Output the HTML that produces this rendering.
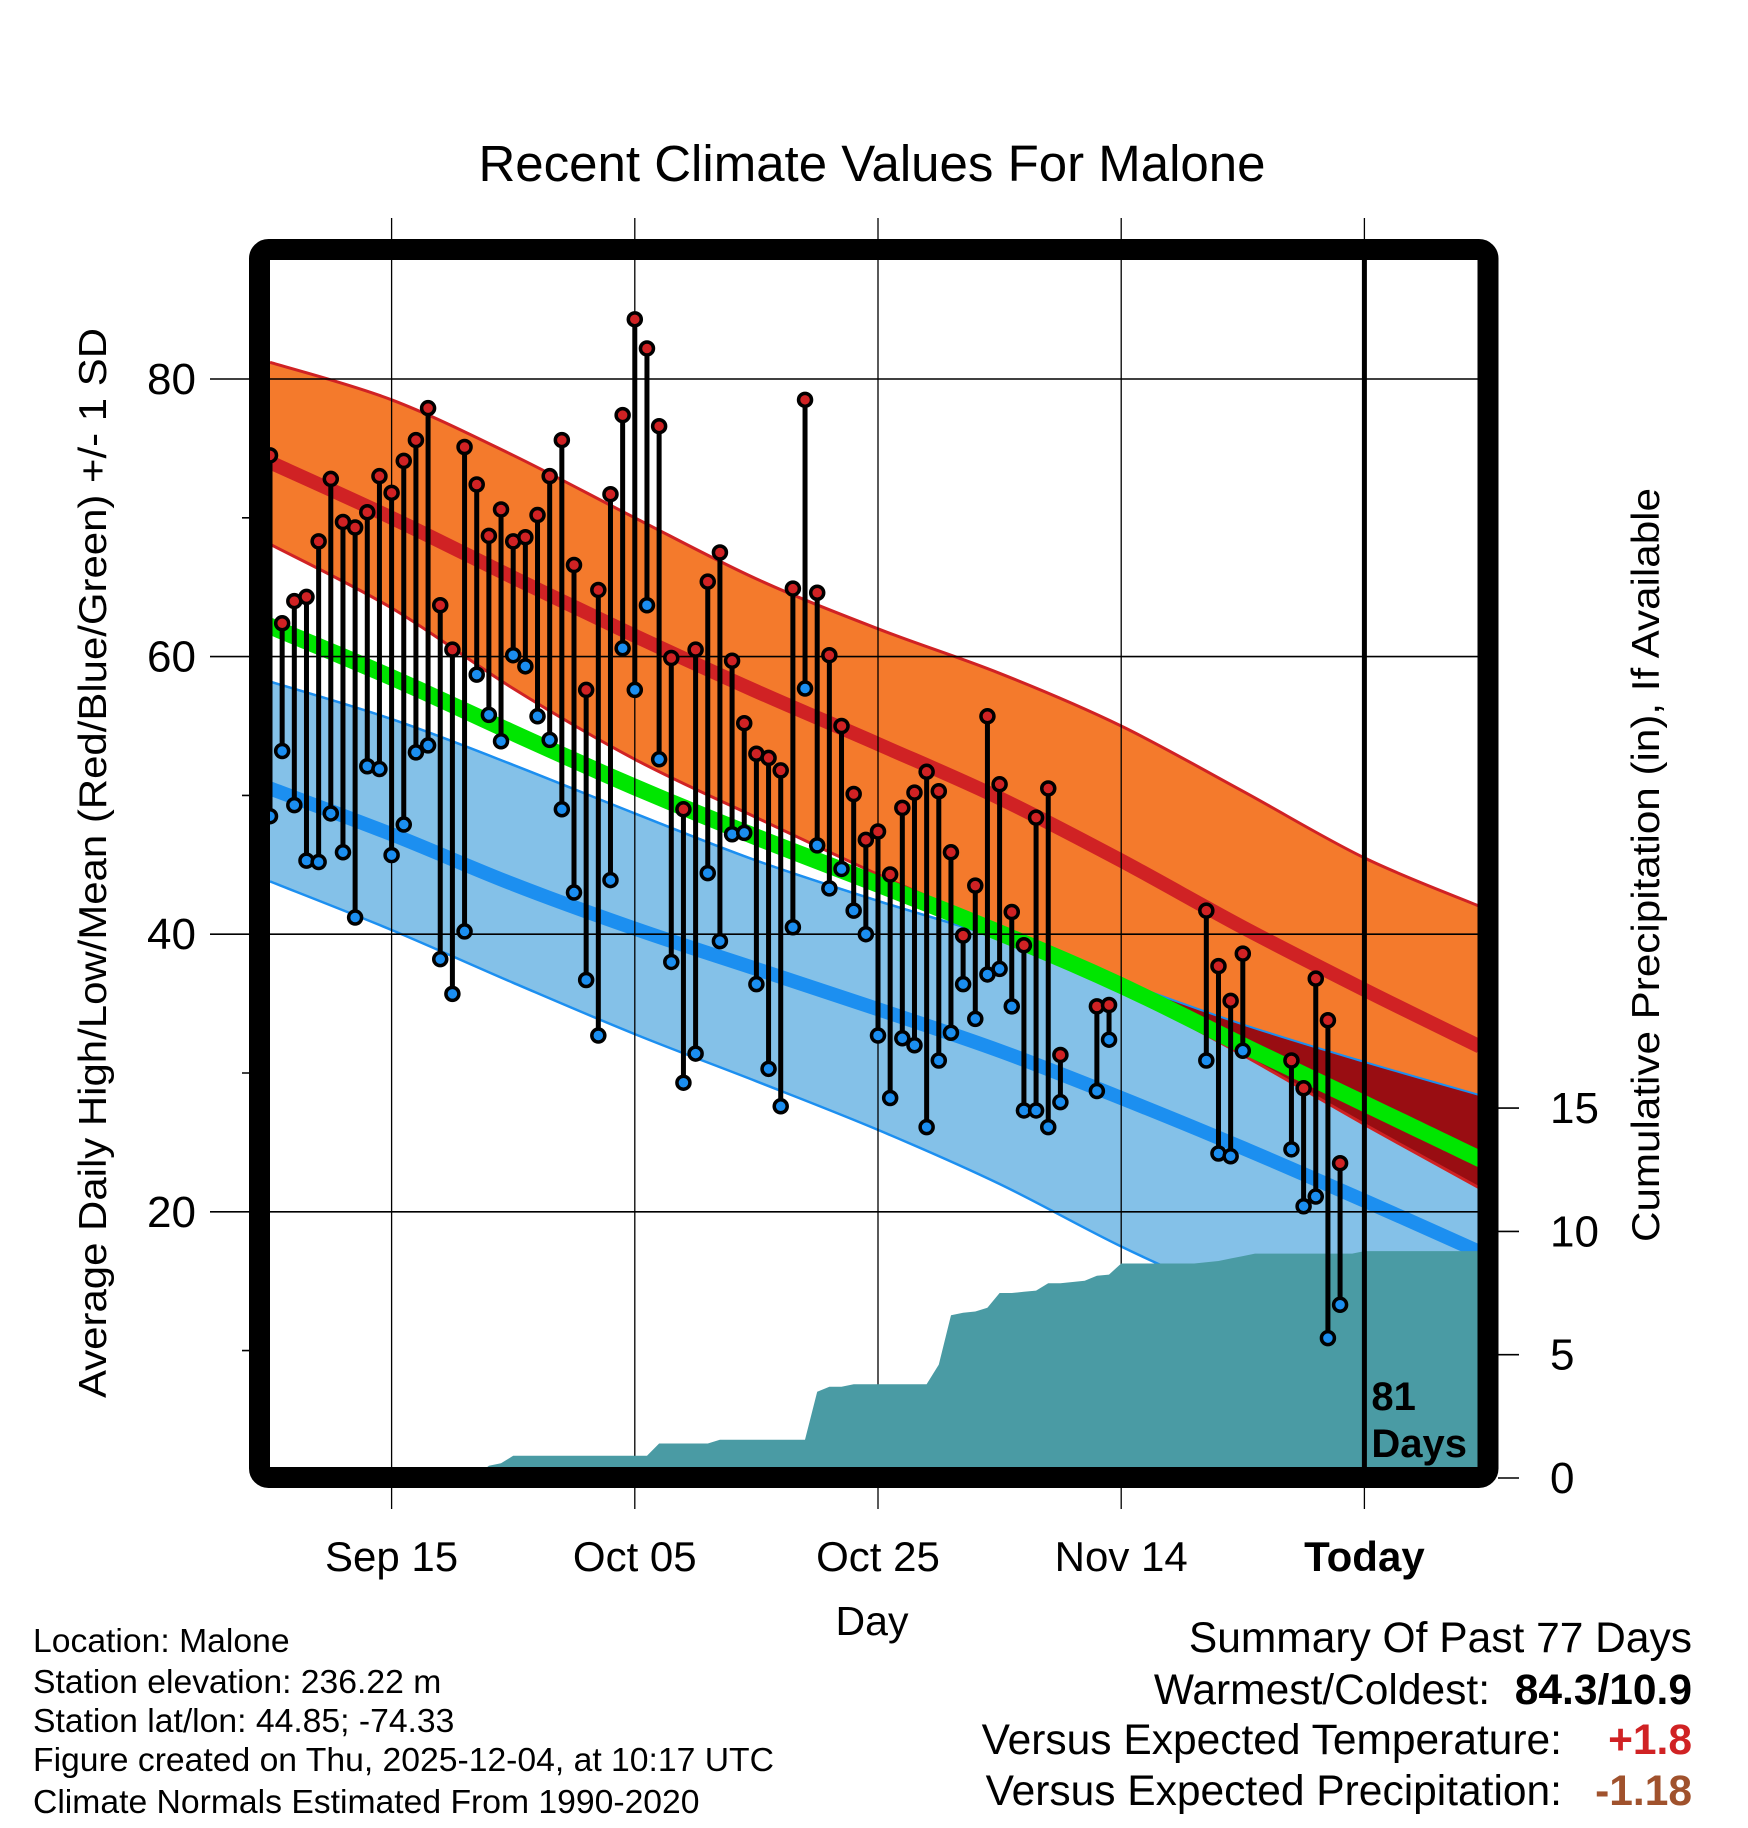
<!DOCTYPE html>
<html><head><meta charset="utf-8">
<style>
html,body{margin:0;padding:0;background:#fff;}
svg{display:block;font-family:"Liberation Sans",Arial,sans-serif;}
</style></head>
<body>
<svg id="chart" width="1748" height="1828" viewBox="0 0 1748 1828" xmlns="http://www.w3.org/2000/svg">
<defs><clipPath id="plotclip"><rect x="270" y="260" width="1208" height="1207"/></clipPath></defs>
<text x="872" y="181" font-size="51" text-anchor="middle">Recent Climate Values For Malone</text>
<g id="grid"></g>
<g id="plot" clip-path="url(#plotclip)"></g>
<g id="overlay"></g>
<rect x="259.5" y="249.5" width="1228.5" height="1228" rx="9" fill="none" stroke="#000" stroke-width="21"/>
<g id="axes"></g>
<text transform="translate(106,863) rotate(-90)" font-size="39" text-anchor="middle" textLength="1070" lengthAdjust="spacingAndGlyphs">Average Daily High/Low/Mean (Red/Blue/Green) +/- 1 SD</text>
<text transform="translate(1659,865) rotate(-90)" font-size="39" text-anchor="middle" textLength="754" lengthAdjust="spacingAndGlyphs">Cumulative Precipitation (in), If Available</text>
<text x="872" y="1635" font-size="41" text-anchor="middle">Day</text>
<g font-size="33.7">
<text x="33" y="1652">Location: Malone</text>
<text x="33" y="1693">Station elevation: 236.22 m</text>
<text x="33" y="1732">Station lat/lon: 44.85; -74.33</text>
<text x="33" y="1771">Figure created on Thu, 2025-12-04, at 10:17 UTC</text>
<text x="33" y="1813">Climate Normals Estimated From 1990-2020</text>
</g>
<g font-size="42.5" text-anchor="end">
<text x="1692" y="1652">Summary Of Past 77 Days</text>
<text x="1490" y="1704">Warmest/Coldest:</text>
<text x="1692" y="1704" font-weight="bold">84.3/10.9</text>
<text x="1562" y="1754">Versus Expected Temperature:</text>
<text x="1692" y="1754" font-weight="bold" fill="#d02224">+1.8</text>
<text x="1562" y="1805">Versus Expected Precipitation:</text>
<text x="1692" y="1805" font-weight="bold" fill="#a0522d">-1.18</text>
</g>
</svg>
<script>
// ---- data ----
const normDays = [0,10,20,30,40,50,60,70,80,90,99.5];
const highUpper = [81.2,78.5,74.5,70.0,65.6,62.0,58.8,55.0,50.3,45.5,42.0];
const highMean  = [74.0,70.0,65.7,61.5,57.5,53.7,49.8,45.3,40.5,36.0,31.9];
const highLower = [68.1,63.5,57.7,52.6,48.4,44.3,40.4,36.0,31.3,26.3,21.7];
const lowUpper  = [58.2,55.5,52.2,48.7,45.3,42.4,39.7,36.6,33.5,30.8,28.4];
const lowMean   = [50.5,47.2,43.6,40.4,37.5,34.6,31.6,28.2,24.6,20.8,17.1];
const lowLower  = [43.8,40.3,36.5,32.8,29.4,25.9,22.0,17.5,13.5,9.5,6.0];
const meanBand  = [62.2,58.5,54.5,50.6,47.0,43.6,40.1,36.3,32.0,27.8,23.8];
const highs = [74.5,62.4,64.0,64.3,68.3,72.8,69.7,69.3,70.4,73.0,
 71.8,74.1,75.6,77.9,63.7,60.5,75.1,72.4,68.7,70.6,
 68.3,68.6,70.2,73.0,75.6,66.6,57.6,64.8,71.7,77.4,
 84.3,82.2,76.6,59.9,49.0,60.5,65.4,67.5,59.7,55.2,
 53.0,52.7,51.8,64.9,78.5,64.6,60.1,55.0,50.1,46.8,
 47.4,44.3,49.1,50.2,51.7,50.3,45.9,39.9,43.5,55.7,
 50.8,41.6,39.2,48.4,50.5,31.3,null,null,34.8,34.9,
 null,null,null,null,null,null,null,41.7,37.7,35.2,
 38.6,null,null,null,30.9,28.9,36.8,33.8,23.5];
const lows = [48.5,53.2,49.3,45.3,45.2,48.7,45.9,41.2,52.1,51.9,
 45.7,47.9,53.1,53.6,38.2,35.7,40.2,58.7,55.8,53.9,
 60.1,59.3,55.7,54.0,49.0,43.0,36.7,32.7,43.9,60.6,
 57.6,63.7,52.6,38.0,29.3,31.4,44.4,39.5,47.2,47.3,
 36.4,30.3,27.6,40.5,57.7,46.4,43.3,44.7,41.7,40.0,
 32.7,28.2,32.5,32.0,26.1,30.9,32.9,36.4,33.9,37.1,
 37.5,34.8,27.3,27.3,26.1,27.9,null,null,28.7,32.4,
 null,null,null,null,null,null,null,30.9,24.2,24.0,
 31.6,null,null,null,24.5,20.4,21.1,10.9,13.3];
const precip = [0,0,0,0,0,0,0,0,0,0, 0,0,0,0,0,0,0,0.1,0.5,0.6,
 0.9,0.9,0.9,0.9,0.9,0.9,0.9,0.9,0.9,0.9, 0.9,0.9,1.4,1.4,1.4,1.4,1.4,1.55,1.55,1.55,
 1.55,1.55,1.55,1.55,1.55,3.5,3.7,3.7,3.8,3.8, 3.8,3.8,3.8,3.8,3.8,4.6,6.6,6.7,6.75,6.9,
 7.5,7.5,7.55,7.6,7.9,7.9,7.95,8.0,8.2,8.25, 8.7,8.7,8.7,8.7,8.7,8.7,8.7,8.75,8.8,8.9,
 9.0,9.1,9.1,9.1,9.1,9.1,9.1,9.1,9.1,9.1, 9.2,9.2,9.2,9.2,9.2,9.2,9.2,9.2,9.2,9.2,9.2];
const tempTicks = [80,60,40,20];
const tempMinorTicks = [70,50,30,10];
const precipTicks = [0,5,10,15];
const xTickDays = [10,30,50,70,90];
const xTickLabels = ["Sep 15","Oct 05","Oct 25","Nov 14","Today"];
const todayDay = 90;

// ---- scales ----
const X = d => 270 + d*12.16;
const Y = v => 379 + (80 - v)*13.88;
const P = p => 1478 - p*24.66;
const NS = "http://www.w3.org/2000/svg";
function mk(tag, parent, attrs){ const e=document.createElementNS(NS,tag); for(const k in attrs) e.setAttribute(k,attrs[k]); parent.appendChild(e); return e; }
const plot=document.getElementById('plot'), axes=document.getElementById('axes');
const ptsArr=(arr)=>normDays.map((d,i)=>[X(d),Y(arr[i])]);
// Catmull-Rom smooth path through points (no leading M)
function smooth(p){
  let s='';
  for(let i=0;i<p.length-1;i++){
    const p0=p[Math.max(0,i-1)],p1=p[i],p2=p[i+1],p3=p[Math.min(p.length-1,i+2)];
    const c1=[p1[0]+(p2[0]-p0[0])/6,p1[1]+(p2[1]-p0[1])/6];
    const c2=[p2[0]-(p3[0]-p1[0])/6,p2[1]-(p3[1]-p1[1])/6];
    s+=' C'+c1[0].toFixed(1)+','+c1[1].toFixed(1)+' '+c2[0].toFixed(1)+','+c2[1].toFixed(1)+' '+p2[0].toFixed(1)+','+p2[1].toFixed(1);
  }
  return s;
}
function band(up, lo, fill, name){
  const a=ptsArr(up), b=ptsArr(lo).reverse();
  const d='M'+a[0][0]+','+a[0][1]+smooth(a)+' L'+b[0][0]+','+b[0][1]+smooth(b)+' Z';
  const e=mk('path',plot,{d:d,fill:fill});
  
  
}
function line(arr, color, w, name){
  const a=ptsArr(arr);
  const e=mk('path',plot,{d:'M'+a[0][0]+','+a[0][1]+smooth(a),fill:'none',stroke:color,'stroke-width':w,'stroke-linejoin':'round'});
  
  
}
band(lowUpper, lowLower, '#84c1e8', 'low-sd-band');
line(lowUpper,'#1c8ff0',2.5,'low-upper-sd-line');
line(lowLower,'#1c8ff0',2.5,'low-lower-sd-line');
band(highUpper, highLower, '#f47a2c', 'high-sd-band');
const ovTop = normDays.map((d,i)=>Math.min(highUpper[i], lowUpper[i]));
const ovBot = normDays.map((d,i)=>Math.min(Math.max(highLower[i], lowLower[i]), ovTop[i]));
band(ovTop, ovBot, '#990d12', 'overlap-band');
line(highUpper,'#d02224',3,'high-upper-sd-line');
line(highLower,'#d02224',3,'high-lower-sd-line');
line(lowUpper,'#1c8ff0',2,'low-upper-sd-edge');
band(meanBand.map(v=>v+0.65), meanBand.map(v=>v-0.65), '#00e600', 'mean-band');
line(highMean,'#d02224',14,'high-mean-line');
line(lowMean,'#1c8ff0',14,'low-mean-line');
tempTicks.forEach(v=>{
  const g=mk('line',plot,{x1:270,x2:1478,y1:Y(v),y2:Y(v),stroke:'#000','stroke-width':1.6});
  
  
});
xTickDays.forEach(d=>{
  const g=mk('line',plot,{x1:X(d),x2:X(d),y1:260,y2:1467,stroke:'#000','stroke-width':1.3});
  
  
});
let pp = 'M'+X(0)+','+P(0);
precip.forEach((p,d)=>{ pp += ' L'+X(d).toFixed(1)+','+P(p).toFixed(1); });
pp += ' L'+X(precip.length-1)+','+P(0)+' Z';
const pa=mk('path',plot,{d:pp,fill:'#4a9ba4'});


highs.forEach((h,d)=>{
  const l=lows[d]; if(h==null||l==null) return;
  const s=mk('line',plot,{x1:X(d),x2:X(d),y1:Y(h),y2:Y(l),stroke:'#000','stroke-width':5});
  
  
});
highs.forEach((h,d)=>{
  const l=lows[d]; if(h==null||l==null) return;
  const c1=mk('circle',plot,{cx:X(d),cy:Y(h),r:6.5,fill:'#d02224',stroke:'#000','stroke-width':3.5});
  
  
  const c2=mk('circle',plot,{cx:X(d),cy:Y(l),r:6.5,fill:'#1b8ef0',stroke:'#000','stroke-width':3.5});
  
  
});
const tl=mk('line',plot,{x1:X(todayDay),x2:X(todayDay),y1:260,y2:1470,stroke:'#000','stroke-width':5});


const t81=mk('text',plot,{x:X(todayDay)+7,y:1410,'font-size':40,'font-weight':'bold'}); t81.textContent='81';


const tdays=mk('text',plot,{x:X(todayDay)+7,y:1457,'font-size':40,'font-weight':'bold'}); tdays.textContent='Days';


tempTicks.forEach(v=>{
  const g=mk('line',axes,{x1:210,x2:260,y1:Y(v),y2:Y(v),stroke:'#000','stroke-width':1.6});
  
  
  const t=mk('text',axes,{x:196,y:Y(v)+15,'font-size':44,'text-anchor':'end'}); t.textContent=v;
  
  
});
tempMinorTicks.forEach(v=>{
  const g=mk('line',axes,{x1:242,x2:260,y1:Y(v),y2:Y(v),stroke:'#000','stroke-width':1.6});
  
  
});
xTickDays.forEach((d,i)=>{
  const a=mk('line',axes,{x1:X(d),x2:X(d),y1:218,y2:250,stroke:'#000','stroke-width':1.3});
  
  
  const b=mk('line',axes,{x1:X(d),x2:X(d),y1:1478,y2:1509,stroke:'#000','stroke-width':1.3});
  
  
  const t=mk('text',axes,{x:X(d),y:1571,'font-size':42,'text-anchor':'middle'}); t.textContent=xTickLabels[i];
  if(i===xTickLabels.length-1) t.setAttribute('font-weight','bold');
  
  
});
precipTicks.forEach(p=>{
  const g=mk('line',axes,{x1:1498,x2:1519,y1:P(p),y2:P(p),stroke:'#000','stroke-width':1.6});
  
  
  const t=mk('text',axes,{x:1550,y:P(p)+15,'font-size':44}); t.textContent=p;
  
  
});
</script>
</body></html>
